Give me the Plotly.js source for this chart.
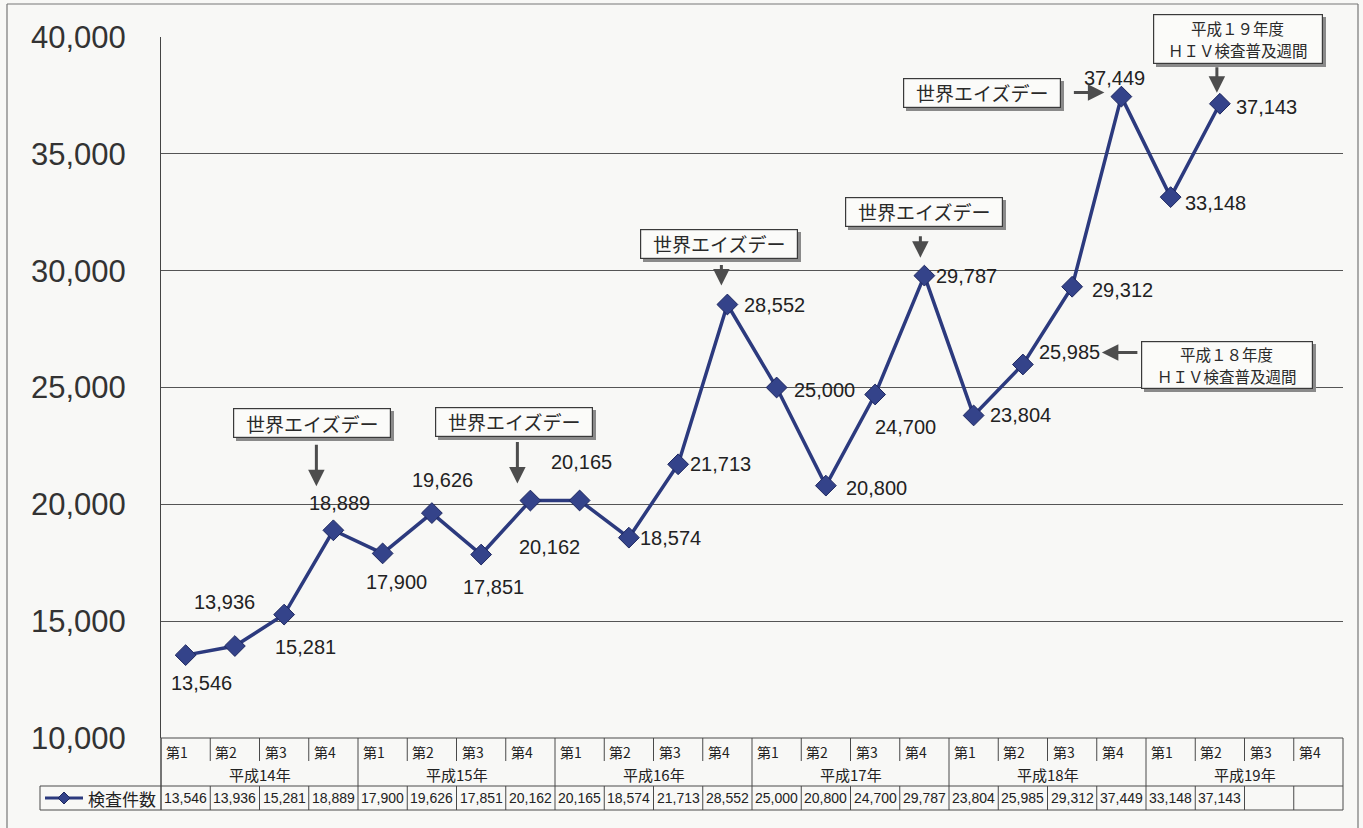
<!DOCTYPE html>
<html><head><meta charset="utf-8">
<script src="https://cdn.plot.ly/plotly-3.0.1.min.js"></script>
<style>html,body{margin:0;padding:0;background:#f8f8f6;}#chart{width:1363px;height:828px;}</style>
</head><body><div id="chart"></div>
<script>
// ---- data ----
const quarters = ['第1','第2','第3','第4','第1','第2','第3','第4','第1','第2','第3','第4',
                  '第1','第2','第3','第4','第1','第2','第3','第4','第1','第2','第3','第4'];
const years = ['平成14年','平成15年','平成16年','平成17年','平成18年','平成19年'];
const counts = [13546,13936,15281,18889,17900,19626,17851,20162,20165,18574,21713,28552,
                25000,20800,24700,29787,23804,25985,29312,37449,33148,37143];
const seriesName = '検査件数';
const aidsDayText = '世界エイズデー';
const aidsDayIdx = [3,7,11,15,19];
const week18Lines = ['平成１８年度','ＨＩＶ検査普及週間'];
const week18Idx = 17;
const week19Lines = ['平成１９年度','ＨＩＶ検査普及週間'];
const week19Idx = 21;

// ---- styles / layout helpers ----
const labelPos = [ // [xanchor, xshift, yshift]
  ['center',16,-28],['center',-10,44],['center',21,-32],['center',6,27],['center',14,-29],
  ['center',11,33],['center',12,-32],['center',19,-46],['center',2,38],['left',9,0],
  ['left',10,0],['left',15,0],['left',15,-2],['left',18,-2],['center',30,-32],
  ['left',10,0],['left',14,0],['left',14,12],['left',18,-3],['center',-7,19],
  ['left',12,-6],['left',14,-3]
];
const L=161,R=20,T=37,B=90,W=1363-L-R,H=828-T-B;
const px = p => (p-L)/W;
const py = p => (T+H-p)/H;
const lineCol = '#2c3a7e', tblCol = '#4a4a4a', arrowCol = '#4d4d4d';
const CJK = 'Noto Sans CJK JP, sans-serif';
const SANS = 'Liberation Sans, Arial, sans-serif';
const fmt = v => v.toLocaleString('en-US');

const xs = counts.map((_,i)=>i);
const trace = {
  x: xs, y: counts, type:'scatter', mode:'lines+markers', name: seriesName,
  line:{color:lineCol, width:3.5},
  marker:{symbol:'diamond', size:16, color:'#34438a', line:{color:'#1e2860', width:1}},
  cliponaxis:false, hoverinfo:'skip'
};

const ann = [];
// data labels
counts.forEach((v,i)=>{
  const p = labelPos[i];
  ann.push({x:i, y:v, xref:'x', yref:'y', text:fmt(v), showarrow:false,
    xanchor:p[0], yanchor:'middle', xshift:p[1], yshift:p[2],
    font:{family:SANS, size:20, color:'#222'}});
});
// callout boxes
function frame(idx, xs_, ys_, w, h){
  const v = counts[idx];
  ann.push({x:idx, y:v, xref:'x', yref:'y', text:' ', showarrow:false,
    xshift:xs_+3, yshift:ys_-3, width:w, height:h, bgcolor:'#8a8a8a', bordercolor:'#8a8a8a',
    borderwidth:1, borderpad:0, font:{family:SANS, size:10, color:'#8a8a8a'}});
  ann.push({x:idx, y:v, xref:'x', yref:'y', text:' ', showarrow:false,
    xshift:xs_, yshift:ys_, width:w, height:h, bgcolor:'#fbfbf9', bordercolor:'#3a3a3a',
    borderwidth:1.2, borderpad:0, font:{family:SANS, size:10, color:'#fbfbf9'}});
}
function label(idx, text, xs_, ys_, fs){
  ann.push({x:idx, y:counts[idx], xref:'x', yref:'y', text:text, showarrow:false,
    xshift:xs_, yshift:ys_, xanchor:'center', yanchor:'middle',
    font:{family:CJK, size:fs, color:'#2a2a2a'}});
}
function arrow(idx, xs_, ys_, ax, ay, standoff){
  ann.push({x:idx, y:counts[idx], xref:'x', yref:'y', text:'', showarrow:true,
    xshift:xs_, yshift:ys_, ax:ax, ay:ay, standoff:standoff,
    arrowhead:2, arrowsize:1.1, arrowwidth:3, arrowcolor:arrowCol});
}
const boxOff = {3:[-21,107],7:[-16,79],11:[-8,61],15:[0,64],19:[-139,4]};
const arrOff = {3:[-17,0,0,-87,44],7:[-13,0,0,-60,17],11:[-6,0,0,-41,19],15:[-4,0,0,-41,18],19:[0,4,-49,0,17]};
aidsDayIdx.forEach(i=>{
  const b = boxOff[i];
  frame(i, b[0], b[1], 156, 28);
  label(i, aidsDayText, b[0], b[1], 19);
  const a = arrOff[i]; arrow(i, a[0], a[1], a[2], a[3], a[4]);
});
frame(week19Idx, 18, 65, 168, 48);
label(week19Idx, week19Lines[0], 18, 76, 15.5);
label(week19Idx, week19Lines[1], 18, 54, 15.5);
arrow(week19Idx, -3, 0, 0, -38, 11);
frame(week18Idx, 204, -1, 170, 46);
label(week18Idx, week18Lines[0], 204, 10, 15.5);
label(week18Idx, week18Lines[1], 204, -12, 15.5);
arrow(week18Idx, 0, 12, 116, 0, 79);

// table texts
quarters.forEach((q,i)=>{
  ann.push({x:i-0.5, y:py(752), xref:'x', yref:'paper', text:q, showarrow:false,
    xanchor:'left', xshift:3, yanchor:'middle', font:{family:CJK, size:14, color:'#222'}});
});
years.forEach((yv,k)=>{
  ann.push({x:4*k+1.5, y:py(774), xref:'x', yref:'paper', text:yv, showarrow:false,
    xanchor:'center', yanchor:'middle', font:{family:CJK, size:15, color:'#222'}});
});
counts.forEach((v,i)=>{
  ann.push({x:i, y:py(798), xref:'x', yref:'paper', text:fmt(v), showarrow:false,
    xanchor:'center', yanchor:'middle', font:{family:SANS, size:14, color:'#222'}});
});
ann.push({x:px(86), y:py(798), xref:'paper', yref:'paper', text:seriesName, showarrow:false,
  xanchor:'left', yanchor:'middle', font:{family:CJK, size:17, color:'#222'}});

// shapes
const shapes = [];
const ln = (x0,y0,x1,y1,c,w)=>shapes.push({type:'line', xref:'paper', yref:'paper',
  x0:px(x0), y0:py(y0), x1:px(x1), y1:py(y1), line:{color:c||tblCol, width:w||1}});
// outer frame
ln(7,4,1358,4,'#777',1.2); ln(7,4,7,828,'#777',1.2); ln(1358,4,1358,828,'#777',1.2);
// table
ln(161,738,1343,738); ln(40,786,1343,786); ln(40,810,1343,810);
ln(40,786,40,810); ln(161,738,161,810);
for(let i=0;i<=24;i++){
  const xp = L + W*i/24;
  if(i%4===0) ln(xp,738,xp,786); else ln(xp,738,xp,761);
  ln(xp,786,xp,810);
}
// legend sample
shapes.push({type:'line', xref:'paper', yref:'paper', x0:px(45), x1:px(83), y0:py(798), y1:py(798),
  line:{color:lineCol, width:3}});
shapes.push({type:'path', xref:'paper', yref:'paper', xsizemode:'pixel', ysizemode:'pixel',
  xanchor:px(64), yanchor:py(798), path:'M -6 0 L 0 6 L 6 0 L 0 -6 Z',
  fillcolor:'#34438a', line:{color:'#1e2860', width:1}});

const layout = {
  width:1363, height:828, margin:{l:L, r:R, t:T, b:B},
  paper_bgcolor:'#f8f8f6', plot_bgcolor:'#f8f8f6', showlegend:false,
  xaxis:{range:[-0.5,23.5], showticklabels:false, showgrid:false, zeroline:false, showline:false, fixedrange:true},
  yaxis:{range:[10000,40000], dtick:5000, tick0:10000, tickformat:',d', separatethousands:true,
    showgrid:true, gridcolor:'#555', gridwidth:1, zeroline:false,
    showline:true, linecolor:'#444', linewidth:1,
    ticks:'outside', ticklen:28, tickcolor:'rgba(0,0,0,0)',
    tickfont:{family:SANS, size:31, color:'#333'}, fixedrange:true},
  annotations: ann, shapes: shapes
};
Plotly.newPlot('chart', [trace], layout, {displayModeBar:false, staticPlot:true});
</script></body></html>
